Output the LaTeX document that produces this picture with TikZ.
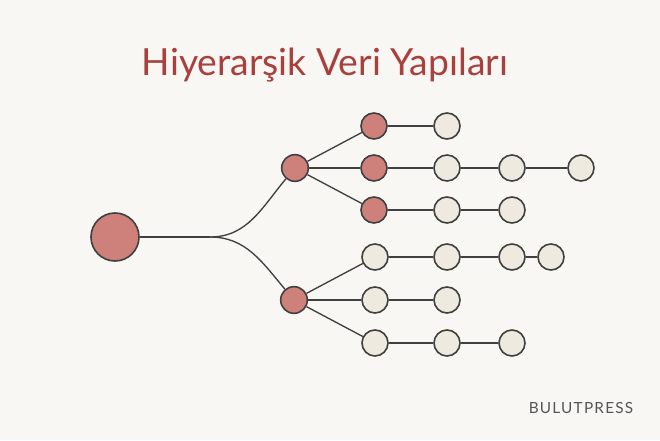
\documentclass[tikz,border=0pt]{standalone}
\usepackage{fontspec}
\setmainfont{Lato}
\newfontfamily\markfont[LetterSpace=8]{Lato}
\definecolor{paper}{HTML}{F9F7F3}
\definecolor{rootred}{HTML}{CD817A}
\definecolor{leafcream}{HTML}{EFEADF}
\definecolor{inkgray}{HTML}{404040}
\definecolor{titlered}{HTML}{A8403D}
\definecolor{markgray}{HTML}{555555}

\begin{document}
\begin{tikzpicture}[x=0.75pt,y=0.75pt,
        edge/.style={inkgray, line width=1pt},
        ball/.style={circle, draw=inkgray, line width=1.2pt, inner sep=0pt, minimum size=19.5pt},
        redball/.style={ball, fill=rootred},
        leaf/.style={ball, fill=leafcream}]
        % paper
        \fill[paper] (0,0) rectangle (660,440);
        \useasboundingbox (0,0) rectangle (660,440);

        \node[titlered, anchor=base, font=\fontsize{28}{32}\selectfont] (title) at (325,364) {Hiyerarşik Veri Yapıları};

        % Root and first split
        \node[redball, minimum size=36pt] (root) at (115,203) {};
        \node[redball, minimum size=20pt] (up) at (295,272) {};
        \node[redball, minimum size=20pt] (down) at (294,140) {};
        \coordinate (fork) at (210,203);

        \draw[edge] (root) -- (fork);
        \draw[edge] (fork) to[out=0, in=230] (up);
        \draw[edge] (fork) to[out=0, in=130] (down);

        % Upper branch (red heads)
        \foreach \r/\yy/\xs in {1/314/{447}, 2/272/{447,512,581}, 3/230/{447,512}} {
            \node[redball] (h\r) at (374,\yy) {};
            \draw[edge] (up) -- (h\r);
            \foreach \x [remember=\x as \lastx (initially 374)] in \xs {
                \node[leaf] (n\r-\x) at (\x,\yy) {};
                \ifnum\lastx=374
                    \draw[edge] (h\r) -- (n\r-\x);
                \else
                    \draw[edge] (n\r-\lastx) -- (n\r-\x);
                \fi
            }
        }

        % Lower branch (plain heads)
        \foreach \r/\yy/\xs in {4/183/{447,512,551}, 5/140/{447}, 6/97/{447,512}} {
            \node[leaf] (h\r) at (375,\yy) {};
            \draw[edge] (down) -- (h\r);
            \foreach \x [remember=\x as \lastx (initially 374)] in \xs {
                \node[leaf] (n\r-\x) at (\x,\yy) {};
                \ifnum\lastx=374
                    \draw[edge] (h\r) -- (n\r-\x);
                \else
                    \draw[edge] (n\r-\lastx) -- (n\r-\x);
                \fi
            }
        }

        \node[markgray, anchor=base, font=\markfont\fontsize{11.5}{13}\selectfont] (mark) at (581,27) {BULUTPRESS};
    \end{tikzpicture}
\end{document}
